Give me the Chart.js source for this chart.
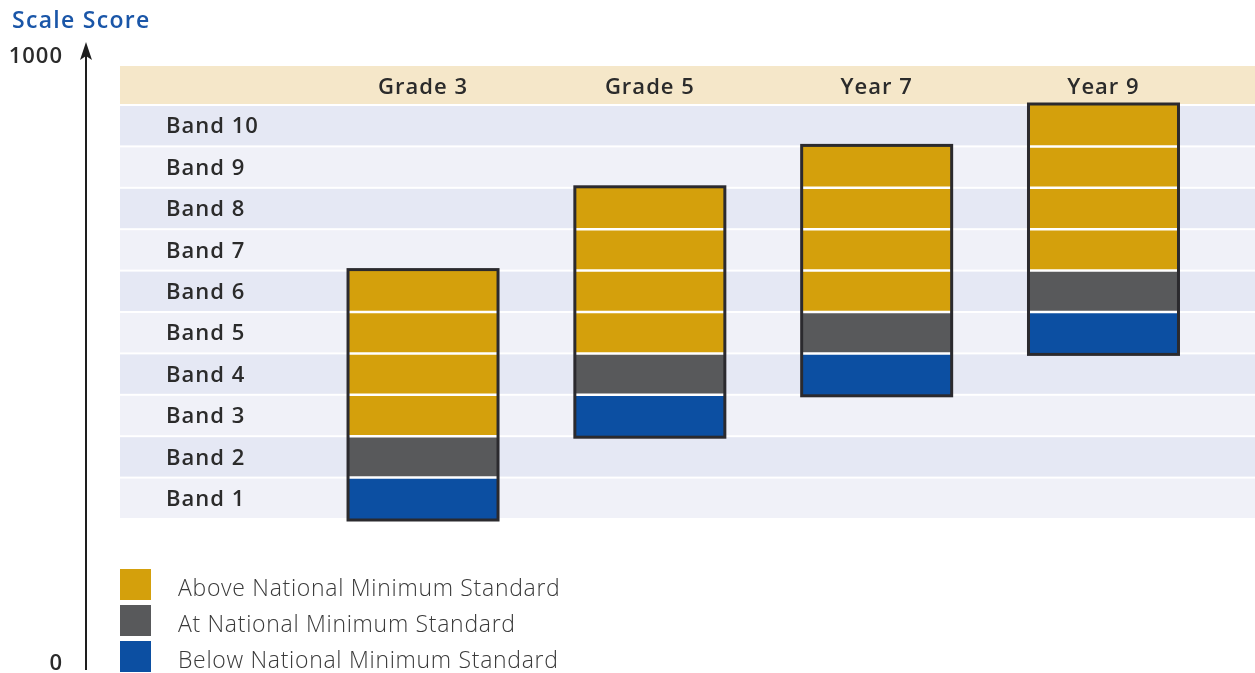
<!DOCTYPE html>
<html>
<head>
<meta charset="utf-8">
<script src="https://cdn.jsdelivr.net/npm/chart.js@4"></script>
<style>
  html, body { margin: 0; padding: 0; background: #fff; }
  #wrap { width: 1255px; height: 673px; position: relative; }
</style>
</head>
<body>
<div id="wrap"><canvas id="naplan"></canvas></div>
<script>
// datos del gráfico
var grades = ['Grade 3', 'Grade 5', 'Year 7', 'Year 9'];
var gradePos = [1, 2, 3, 4];
var bandLabels = ['Band 1', 'Band 2', 'Band 3', 'Band 4', 'Band 5', 'Band 6', 'Band 7', 'Band 8', 'Band 9', 'Band 10'];
var belowBand = [1, 3, 4, 5];   // banda bajo el mínimo
var atBand = [2, 4, 5, 6];      // banda en el mínimo
var topBand = [6, 8, 9, 10];    // banda más alta
var legendLabels = ['Above National Minimum Standard', 'At National Minimum Standard', 'Below National Minimum Standard'];
var axisTitle = 'Scale Score';
var axisMax = '1000';
var axisMin = '0';

var colAbove = '#d4a00c';
var colAt = '#58595b';
var colBelow = '#0c4fa2';
var FONT = '"Open Sans", Lato, sans-serif';

function floating(lo, hi) {
    return gradePos.map(function (x, i) { return { x: x, y: [lo[i], hi[i]] }; });
}

var belowLo = belowBand.map(function (b) { return b - 1; });
var atLo = atBand.map(function (b) { return b - 1; });

// fondo de la tabla: filas de bandas y cabecera
var tablePlugin = {
    id: 'tabla',
    beforeDatasetsDraw: function (chart) {
        var c = chart.ctx, y = chart.scales.y, x = chart.scales.x;
        var left = 120, right = chart.width;
        c.save();
        c.fillStyle = '#f5e7c9';
        c.fillRect(left, 66, right - left, 38);
        for (var k = 0; k < bandLabels.length; k++) {
            var top = y.getPixelForValue(k + 1), bot = y.getPixelForValue(k);
            c.fillStyle = (k % 2 === 0) ? '#f0f1f8' : '#e5e8f4';
            c.fillRect(left, top + 1, right - left, bot - top - 2);
        }
        // etiquetas de bandas
        c.fillStyle = '#2b2b2b';
        c.font = '600 22px ' + FONT;
        c.letterSpacing = '1px';
        c.textAlign = 'left';
        c.textBaseline = 'middle';
        bandLabels.forEach(function (lab, k) {
            c.fillText(lab, 166, y.getPixelForValue(k + 0.5) + 1.5);
        });
        // cabecera
        c.textAlign = 'center';
        grades.forEach(function (g, i) {
            c.fillText(g, x.getPixelForValue(gradePos[i]), 87.5);
        });
        c.restore();
    },
    afterDatasetsDraw: function (chart) {
        var c = chart.ctx, y = chart.scales.y;
        var meta = chart.getDatasetMeta(0);
        c.save();
        meta.data.forEach(function (bar, i) {
            var w = bar.width;
            var l = bar.x - w / 2, r = bar.x + w / 2;
            // líneas blancas entre bandas
            c.strokeStyle = '#ffffff';
            c.lineWidth = 2.5;
            for (var k = belowBand[i]; k < topBand[i]; k++) {
                var py = y.getPixelForValue(k);
                c.beginPath();
                c.moveTo(l, py);
                c.lineTo(r, py);
                c.stroke();
            }
            // borde exterior
            var t = y.getPixelForValue(topBand[i]), b = y.getPixelForValue(belowLo[i]);
            c.strokeStyle = '#2b2a2e';
            c.lineWidth = 3;
            c.strokeRect(l - 1, t - 1, w + 2, b - t + 2);
        });
        c.restore();
    },
    afterDraw: function (chart) {
        var c = chart.ctx;
        c.save();
        // eje de puntuación con flecha
        c.strokeStyle = '#1e1e1e';
        c.fillStyle = '#1e1e1e';
        c.lineWidth = 2;
        c.beginPath();
        c.moveTo(86, 52);
        c.lineTo(86, 670);
        c.stroke();
        c.beginPath();
        c.moveTo(86, 42);
        c.lineTo(92, 60);
        c.lineTo(86, 56);
        c.lineTo(80, 60);
        c.closePath();
        c.fill();

        c.fillStyle = '#1a56a8';
        c.font = '600 23px ' + FONT;
        c.letterSpacing = '1.3px';
        c.textAlign = 'left';
        c.textBaseline = 'middle';
        c.fillText(axisTitle, 12, 21);

        c.fillStyle = '#2b2b2b';
        c.font = '600 22px ' + FONT;
        c.letterSpacing = '1px';
        c.textAlign = 'right';
        c.fillText(axisMax, 63, 57);
        c.fillText(axisMin, 63, 664);

        // leyenda
        var cols = [colAbove, colAt, colBelow];
        c.font = '300 23px ' + FONT;
        c.letterSpacing = '0.7px';
        c.textAlign = 'left';
        legendLabels.forEach(function (lab, i) {
            var ty = 569 + i * 36;
            c.fillStyle = cols[i];
            c.fillRect(120, ty, 31, 31);
            c.fillStyle = '#3a3a3a';
            c.fillText(lab, 178, ty + 20.5);
        });
        c.restore();
    }
};

var ctx = document.getElementById('naplan').getContext('2d');
var chart = new Chart(ctx, {
    type: 'bar',
    data: {
        datasets: [
            { label: legendLabels[2], data: floating(belowLo, belowBand), backgroundColor: colBelow },
            { label: legendLabels[1], data: floating(atLo, atBand), backgroundColor: colAt },
            { label: legendLabels[0], data: floating(atBand, topBand), backgroundColor: colAbove }
        ]
    },
    options: {
        responsive: true,
        maintainAspectRatio: false,
        animation: false,
        layout: { padding: { top: 105, bottom: 154, left: 120, right: 0 } },
        datasets: { bar: { grouped: false, barThickness: 148, borderWidth: 0 } },
        plugins: { legend: { display: false }, tooltip: { enabled: false } },
        scales: {
            x: { type: 'linear', offset: false, min: -0.336, max: 4.668, display: false },
            y: { min: 0, max: 10, display: false }
        }
    },
    plugins: [tablePlugin]
});
</script>
</body>
</html>
